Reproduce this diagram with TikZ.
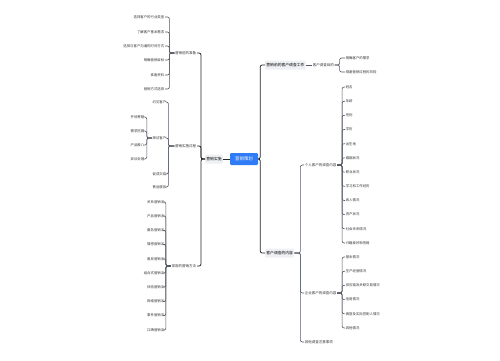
\documentclass[tikz,border=0pt]{standalone}
\usepackage{fontspec}
\setmainfont{Noto Sans CJK SC}
\definecolor{rootblue}{HTML}{2F7CF6}
\definecolor{boxgray}{HTML}{EEF0F3}
\definecolor{linegray}{HTML}{555A63}
\definecolor{textgray}{HTML}{333333}
\tikzset{
 rootbox/.style={fill=rootblue, text=white, rounded corners=1.2pt, font=\fontsize{4.4}{5}\selectfont, minimum width=28pt, minimum height=12pt, inner sep=1pt},
 mainbox/.style={fill=boxgray, rounded corners=1pt, font=\fontsize{3.8}{4.5}\selectfont, inner xsep=1.2pt, inner ysep=0.5pt, minimum height=9pt, text=black},
 midnode/.style={font=\fontsize{3.5}{4}\selectfont, inner sep=0.6pt, text=textgray},
 leaf/.style={font=\fontsize{3.4}{4}\selectfont, inner sep=0.6pt, text=textgray},
 trunk/.style={draw=black!85, line width=0.75pt, rounded corners=2pt},
 conn/.style={draw=linegray, line width=0.6pt, rounded corners=2pt},
}
\begin{document}
\begin{tikzpicture}[x=1pt,y=-1pt]
\useasboundingbox[fill=white] (0,0) rectangle (500,360);

% root and first level
\node[rootbox] (root) at (244,159) {营销策划};
\node[mainbox, anchor=east] (L) at (223,159) {营销实施};
\node[mainbox, anchor=west] (R1) at (265,65) {营销前的客户调查工作};
\node[mainbox, anchor=west] (R2) at (265,253) {客户调查的内容};

% left second level
\node[midnode, anchor=east] (A) at (197,53) {营销前的准备};
\node[midnode, anchor=east] (B) at (197,146) {营销实施过程};
\node[midnode, anchor=east] (C) at (197,266) {常用的营销方法};

% A children
\node[leaf, anchor=east] (A1) at (165,17) {选择客户的行业类型};
\node[leaf, anchor=east] (A2) at (165,32) {了解客户基本需求};
\node[leaf, anchor=east] (A3) at (165,46) {选择与客户沟通的时间方式};
\node[leaf, anchor=east] (A4) at (165,60) {明确营销目标};
\node[leaf, anchor=east] (A5) at (165,75) {准备资料};
\node[leaf, anchor=east] (A6) at (165,89) {营销方式选择};

% B children
\node[leaf, anchor=east] (B1) at (167,102) {约见客户};
\node[leaf, anchor=east] (B2) at (167,138) {拜访客户};
\node[leaf, anchor=east] (B3) at (167,174) {促成交易};
\node[leaf, anchor=east] (B4) at (167,187) {售后服务};
\node[leaf, anchor=east] (B21) at (145,117) {开场寒暄};
\node[leaf, anchor=east] (B22) at (145,131) {需求挖掘};
\node[leaf, anchor=east] (B23) at (145,145) {产品推介};
\node[leaf, anchor=east] (B24) at (145,159) {异议处理};

% C children
\node[leaf, anchor=east] (C1) at (165,202) {关系营销法};
\node[leaf, anchor=east] (C2) at (165,216) {产品营销法};
\node[leaf, anchor=east] (C3) at (165,230.5) {服务营销法};
\node[leaf, anchor=east] (C4) at (165,244.5) {情感营销法};
\node[leaf, anchor=east] (C5) at (165,259) {差异营销法};
\node[leaf, anchor=east] (C6) at (165,273) {组合式营销法};
\node[leaf, anchor=east] (C7) at (165,287) {体验营销法};
\node[leaf, anchor=east] (C8) at (165,301.5) {网络营销法};
\node[leaf, anchor=east] (C9) at (165,315.5) {事件营销法};
\node[leaf, anchor=east] (C10) at (165,330) {口碑营销法};

% right second level
\node[midnode, anchor=west] (R1a) at (312,65) {客户调查目的};
\node[midnode, anchor=west] (R2a) at (304,165) {个人客户的调查内容};
\node[midnode, anchor=west] (R2b) at (304,293) {企业客户的调查内容};
\node[midnode, anchor=west] (R2c) at (304,342) {其他调查注意事项};

% R1a children
\node[leaf, anchor=west] (R1a1) at (345,58) {明确客户的需求};
\node[leaf, anchor=west] (R1a2) at (345,72) {规避营销过程的风险};

% R2a children
\node[leaf, anchor=west] (P1) at (345,87) {姓名};
\node[leaf, anchor=west] (P2) at (345,101.2) {年龄};
\node[leaf, anchor=west] (P3) at (345,115.4) {性别};
\node[leaf, anchor=west] (P4) at (345,129.5) {学历};
\node[leaf, anchor=west] (P5) at (345,143.7) {出生地};
\node[leaf, anchor=west] (P6) at (345,157.9) {婚姻状况};
\node[leaf, anchor=west] (P7) at (345,172.1) {职业状况};
\node[leaf, anchor=west] (P8) at (345,186.3) {学习和工作经历};
\node[leaf, anchor=west] (P9) at (345,200.5) {收入情况};
\node[leaf, anchor=west] (P10) at (345,214.6) {资产状况};
\node[leaf, anchor=west] (P11) at (345,228.8) {社会关系情况};
\node[leaf, anchor=west] (P12) at (345,243) {兴趣爱好和性格};

% R2b children
\node[leaf, anchor=west] (Q1) at (345,257) {基本情况};
\node[leaf, anchor=west] (Q2) at (345,271.2) {生产经营情况};
\node[leaf, anchor=west] (Q3) at (345,285.4) {供应链及关联交易情况};
\node[leaf, anchor=west] (Q4) at (345,299.6) {信用情况};
\node[leaf, anchor=west] (Q5) at (345,313.8) {高管及实际控制人情况};
\node[leaf, anchor=west] (Q6) at (345,328) {其他情况};

% connectors: root
\draw[trunk] (root.west) -- (L.east);
\foreach \t in {R1,R2} \draw[trunk] (root.east) -- ++(2,0) |- (\t.west);
\foreach \t in {A,B,C} \draw[trunk] (L.west) -- ++(-4,0) |- (\t.east);

% left branches
\foreach \t in {A1,A2,A3,A4,A5,A6} \draw[conn] (A.west) -- ++(-5,0) |- (\t.east);
\foreach \t in {B1,B2,B3,B4} \draw[conn] (B.west) -- ++(-6,0) |- (\t.east);
\foreach \t in {B21,B22,B23,B24} \draw[conn] (B2.west) -- ++(-5,0) |- (\t.east);
\foreach \t in {C1,C2,C3,C4,C5,C6,C7,C8,C9,C10} \draw[conn] (C.west) -- ++(-5,0) |- (\t.east);

% right branches
\draw[conn] (R1.east) -- (R1a.west);
\foreach \t in {R1a1,R1a2} \draw[conn] (R1a.east) -- ++(5,0) |- (\t.west);
\foreach \t in {R2a,R2b,R2c} \draw[conn] (R2.east) -- ++(6,0) |- (\t.west);
\foreach \t in {P1,P2,P3,P4,P5,P6,P7,P8,P9,P10,P11,P12} \draw[conn] (R2a.east) -- ++(5,0) |- (\t.west);
\foreach \t in {Q1,Q2,Q3,Q4,Q5,Q6} \draw[conn] (R2b.east) -- ++(5,0) |- (\t.west);
\end{tikzpicture}
\end{document}
